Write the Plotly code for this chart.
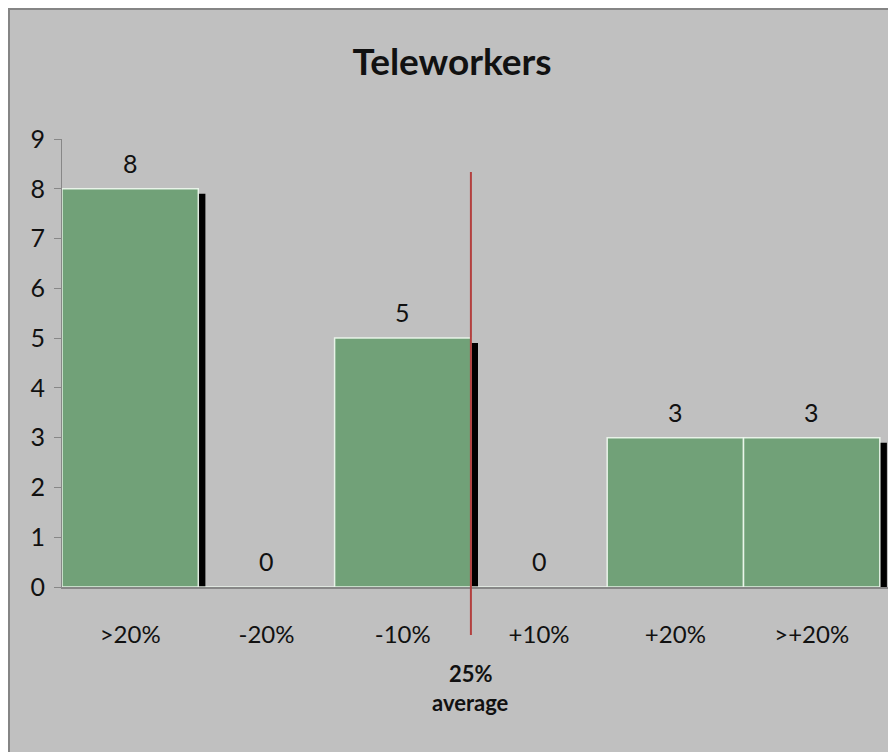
import plotly.graph_objects as go

# Teleworkers distribution by deviation band
categories = [">20%", "-20%", "-10%", "+10%", "+20%", ">+20%"]
counts = [8, 0, 5, 0, 3, 3]
y_ticks = list(range(0, 10))

# reference marker between the -10% and +10% bands
avg_position = 2.5
avg_label_top = "25%"
avg_label_bottom = "average"

BAR_GREEN = "#71a178"
AXIS_GRAY = "#878787"
FONT = "Lato, 'Open Sans', sans-serif"

W, H = 888, 752
ML, MR, MT, MB = 62, 0, 139, 165
plot_w = W - ML - MR
plot_h = H - MT - MB
X_RANGE = [-0.5, 5.56]


def px_to_paper_x(px):
    return (px - ML) / plot_w


def px_to_paper_y(py):
    return (H - MB - py) / plot_h


fig = go.Figure()

# drop shadow on the right side of each bar
fig.add_trace(go.Bar(
    x=categories,
    y=[max(v - 0.1, 0) for v in counts],
    width=0.052,
    offset=0.5,
    marker=dict(color="black", line=dict(width=0)),
    hoverinfo="skip",
    showlegend=False,
))

fig.add_trace(go.Bar(
    x=categories,
    y=counts,
    width=1.0,
    marker=dict(color=BAR_GREEN, line=dict(color="rgba(240,250,240,0.9)", width=1.5)),
    hoverinfo="skip",
    showlegend=False,
))

annotations = []
for c, v in zip(categories, counts):
    annotations.append(dict(
        x=c, y=v, xref="x", yref="y", text=str(v), showarrow=False,
        yanchor="middle", yshift=26, font=dict(family=FONT, size=25, color="#111111"),
    ))

annotations.append(dict(
    x=avg_position, y=px_to_paper_y(673), xref="x", yref="paper",
    text=f"<b>{avg_label_top}</b>", showarrow=False, yanchor="middle",
    font=dict(family=FONT, size=22, color="#111111"),
))
annotations.append(dict(
    x=avg_position, y=px_to_paper_y(702), xref="x", yref="paper",
    text=f"<b>{avg_label_bottom}</b>", showarrow=False, yanchor="middle",
    font=dict(family=FONT, size=22, color="#111111"),
))

shapes = [
    # chart area background with border
    dict(type="rect", xref="paper", yref="paper", layer="below",
         x0=px_to_paper_x(9), x1=px_to_paper_x(905),
         y0=px_to_paper_y(770), y1=px_to_paper_y(9),
         fillcolor="#c0c0c0", line=dict(color="#858585", width=2)),
    # average marker line
    dict(type="line", xref="x", yref="paper",
         x0=avg_position, x1=avg_position,
         y0=px_to_paper_y(635), y1=px_to_paper_y(172),
         line=dict(color="#b3403f", width=2)),
]

fig.update_layout(
    width=W, height=H,
    margin=dict(l=ML, r=MR, t=MT, b=MB, pad=0),
    paper_bgcolor="white",
    plot_bgcolor="rgba(0,0,0,0)",
    barmode="overlay",
    title=dict(text="<b>Teleworkers</b>", x=452 / W, xanchor="center",
               y=1 - 62 / H, yanchor="middle",
               font=dict(family=FONT, size=37, color="#111111")),
    xaxis=dict(
        type="category", range=X_RANGE,
        showline=True, linecolor=AXIS_GRAY, linewidth=2,
        ticks="", showgrid=False, zeroline=False,
        tickfont=dict(family=FONT, size=24, color="#111111"),
        ticklabelstandoff=25,
    ),
    yaxis=dict(
        range=[0, 9], tickvals=y_ticks,
        showline=True, linecolor=AXIS_GRAY, linewidth=1,
        ticks="outside", ticklen=7, tickcolor=AXIS_GRAY, tickwidth=1,
        showgrid=False, zeroline=False,
        tickfont=dict(family=FONT, size=25, color="#111111"),
        ticklabelstandoff=4,
    ),
    annotations=annotations,
    shapes=shapes,
)

fig.write_html("out.html")
